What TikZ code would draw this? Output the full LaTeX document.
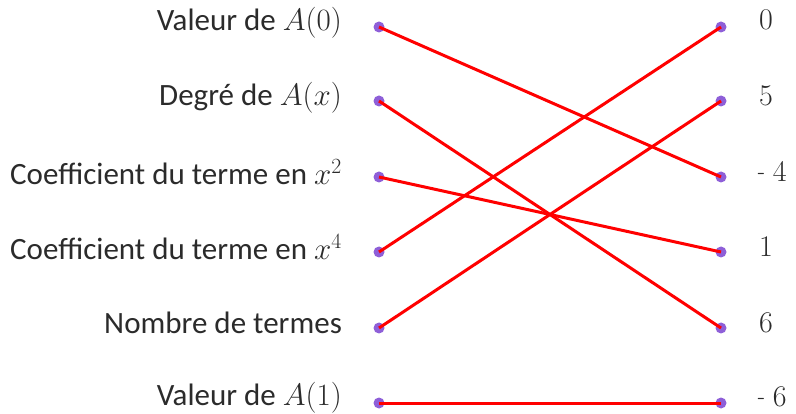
\RequirePackage{fix-cm}
\documentclass[tikz,border=0pt]{standalone}
\usepackage{fontspec}
\setmainfont{Carlito}
\newcommand{\shortminus}{\scalebox{0.33}[1]{$-$}\hspace{8pt}}
\begin{document}
\begin{tikzpicture}[x=1pt,y=-1pt,
  lbl/.style={anchor=east,inner sep=0pt,font=\fontsize{31}{36}\selectfont,text=txtc},
  rlbl/.style={anchor=west,inner sep=0pt,font=\fontsize{30}{34}\selectfont,text=txtc},
  dot/.style={circle,fill=dotc,inner sep=0pt,minimum size=11pt},
  link/.style={draw=red,line width=3pt}]
\definecolor{dotc}{HTML}{8E5FD8}
\definecolor{txtc}{HTML}{2B2B2B}
\useasboundingbox (0,0) rectangle (796,414);
% left dots
\node[dot] (l1) at (379,27) {};
\node[dot] (l2) at (379,101) {};
\node[dot] (l3) at (379,177) {};
\node[dot] (l4) at (379,252) {};
\node[dot] (l5) at (379,328) {};
\node[dot] (l6) at (379,403) {};
% right dots
\node[dot] (r1) at (721,27) {};
\node[dot] (r2) at (721,101) {};
\node[dot] (r3) at (721,177) {};
\node[dot] (r4) at (721,252) {};
\node[dot] (r5) at (721,328) {};
\node[dot] (r6) at (721,403) {};
% left labels
\node[lbl] (t1) at (342,23) {Valeur de $A(0)$};
\node[lbl] (t2) at (342,98) {Degré de $A(x)$};
\node[lbl] (t3) at (342,172) {Coefficient du terme en $x^2$};
\node[lbl] (t4) at (342,247) {Coefficient du terme en $x^4$};
\node[lbl] (t5) at (342,323) {Nombre de termes};
\node[lbl] (t6) at (342,398) {Valeur de $A(1)$};
% right labels
\node[rlbl] (v1) at (759,20) {$0$};
\node[rlbl] (v2) at (759,96) {$5$};
\node[rlbl] (v3) at (757,173) {\shortminus$4$};
\node[rlbl] (v4) at (759,247) {$1$};
\node[rlbl] (v5) at (759,323) {$6$};
\node[rlbl] (v6) at (757,398) {\shortminus$6$};
% links
\draw[link] (l1.center) -- (r3.center);
\draw[link] (l2.center) -- (r5.center);
\draw[link] (l3.center) -- (r4.center);
\draw[link] (l4.center) -- (r1.center);
\draw[link] (l5.center) -- (r2.center);
\draw[link] (l6.center) -- (r6.center);
\end{tikzpicture}
\end{document}
